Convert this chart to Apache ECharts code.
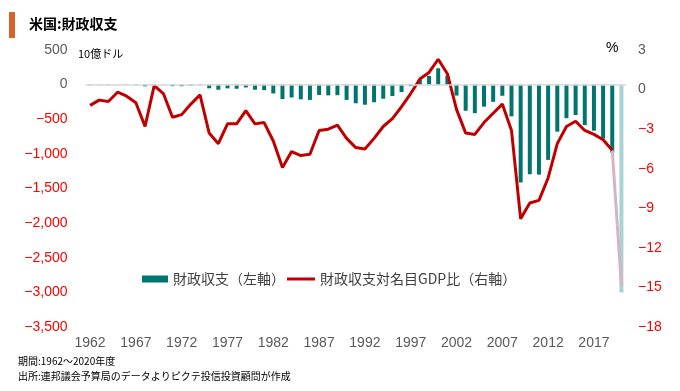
<!DOCTYPE html>
<html><head><meta charset="utf-8">
<script src="https://cdn.jsdelivr.net/npm/echarts@6/dist/echarts.min.js"></script>
<style>html,body{margin:0;padding:0;background:#fff}#c{width:680px;height:391px}</style>
</head><body><div id="c"></div>
<script>
const years = [];
for (let y = 1962; y <= 2020; y++) years.push(String(y));
const deficit = [-7.1,-4.8,-5.9,-1.4,-3.7,-8.6,-25.2,3.2,-2.8,-23.0,-23.4,-14.9,-6.1,-53.2,-73.7,-53.7,-59.2,-40.7,-73.8,-79.0,-128.0,-207.8,-185.4,-212.3,-221.2,-149.7,-155.2,-152.6,-221.0,-269.2,-290.3,-255.1,-203.2,-164.0,-107.4,-21.9,69.3,125.6,236.2,128.2,-157.8,-377.6,-412.7,-318.3,-248.2,-160.7,-458.6,-1412.7,-1294.4,-1299.6,-1087.0,-679.5,-484.6,-438.5,-584.7,-665.4,-779.1,-983.6,-3000];
const ratio = [-1.2,-0.8,-0.9,-0.2,-0.5,-1.0,-2.8,0.3,-0.3,-2.1,-1.9,-1.1,-0.4,-3.3,-4.1,-2.6,-2.6,-1.6,-2.6,-2.5,-3.9,-5.9,-4.7,-5.0,-4.9,-3.1,-3.0,-2.7,-3.7,-4.4,-4.5,-3.7,-2.8,-2.2,-1.3,-0.3,0.8,1.3,2.3,1.2,-1.5,-3.3,-3.4,-2.5,-1.8,-1.1,-3.1,-9.8,-8.6,-8.4,-6.7,-4.1,-2.8,-2.4,-3.1,-3.4,-3.8,-4.6,-14.9];
const leftTicks = {min: -3500, max: 500, interval: 500};
const rightTicks = {min: -18, max: 3, interval: 3};
const barName = '財政収支（左軸）';
const lineName = '財政収支対名目GDP比（右軸）';

const last = years.length - 1;
const barData = deficit.map((v, i) => i === last ? {value: v, itemStyle: {color: '#a9d2d5'}} : v);
const lineMain = ratio.map((v, i) => i === last ? null : v);
const lineTail = ratio.map((v, i) => i >= last - 1 ? v : null);

function fmt(v) {
  const s = Math.abs(v).toLocaleString('en-US');
  return v < 0 ? '\u2212' + s : s;
}
const numFont = 'Liberation Sans, Arial, sans-serif';
const jpFont = 'Noto Sans CJK JP, sans-serif';
const legendText = {fontFamily: jpFont, fontSize: 14, color: '#404040'};

const chart = echarts.init(document.getElementById('c'));
chart.setOption({
  animation: false,
  grid: {left: 85.5, right: 54, top: 50, bottom: 64},
  legend: [{
    left: 137, top: 267, itemWidth: 26, itemHeight: 7, itemGap: 6,
    textStyle: legendText, data: [{name: barName, icon: 'rect'}]
  }, {
    left: 282, top: 267, itemWidth: 28, itemHeight: 3, itemGap: 6,
    textStyle: legendText, data: [{name: lineName, icon: 'rect'}]
  }],
  xAxis: {
    type: 'category', data: years,
    axisLine: {show: false}, axisTick: {show: false},
    axisLabel: {interval: 4, color: '#595959', fontFamily: numFont, fontSize: 14, margin: 9}
  },
  yAxis: [{
    type: 'value', min: leftTicks.min, max: leftTicks.max, interval: leftTicks.interval,
    splitLine: {show: false}, axisLine: {show: false}, axisTick: {show: false},
    axisLabel: {formatter: fmt, fontFamily: numFont, fontSize: 14, margin: 18,
      color: v => v < 0 ? '#ff0000' : '#595959'}
  }, {
    type: 'value', min: rightTicks.min, max: rightTicks.max, interval: rightTicks.interval,
    splitLine: {show: false}, axisLine: {show: false}, axisTick: {show: false},
    axisLabel: {formatter: fmt, fontFamily: numFont, fontSize: 14, margin: 12,
      color: v => v < 0 ? '#ff0000' : '#595959'}
  }],
  series: [{
    name: barName, type: 'bar', yAxisIndex: 0, data: barData, barWidth: 4,
    itemStyle: {color: '#007570'},
    markLine: {silent: true, symbol: 'none', label: {show: false},
      lineStyle: {color: '#d9d9d9', width: 1.5, type: 'solid'},
      data: [{yAxis: 0}]}
  }, {
    name: lineName, type: 'line', yAxisIndex: 1, data: lineMain,
    symbol: 'none', lineStyle: {color: '#c00000', width: 3}, itemStyle: {color: '#c00000'}, z: 3
  }, {
    name: 'tail', type: 'line', yAxisIndex: 1, data: lineTail,
    symbol: 'none', lineStyle: {color: '#d7b3c3', width: 3}, itemStyle: {color: '#d7b3c3'}, z: 2
  }],
  graphic: [
    {type: 'rect', left: 9, top: 12, shape: {width: 6, height: 26}, style: {fill: '#d9622b'}},
    {type: 'text', left: 29, top: 17, style: {text: '米国:財政収支', font: 'bold 14px ' + jpFont, fill: '#000'}},
    {type: 'text', left: 78, top: 48, style: {text: '10億ドル', font: '11px ' + jpFont, fill: '#000'}},
    {type: 'text', left: 606, top: 41, style: {text: '%', font: '14px ' + numFont, fill: '#000'}},
    {type: 'text', left: 18, top: 356, style: {text: '期間:1962～2020年度', font: '10px ' + jpFont, fill: '#000'}},
    {type: 'text', left: 18, top: 371, style: {text: '出所:連邦議会予算局のデータよりピクテ投信投資顧問が作成', font: '10px ' + jpFont, fill: '#000'}}
  ]
});
</script></body></html>
